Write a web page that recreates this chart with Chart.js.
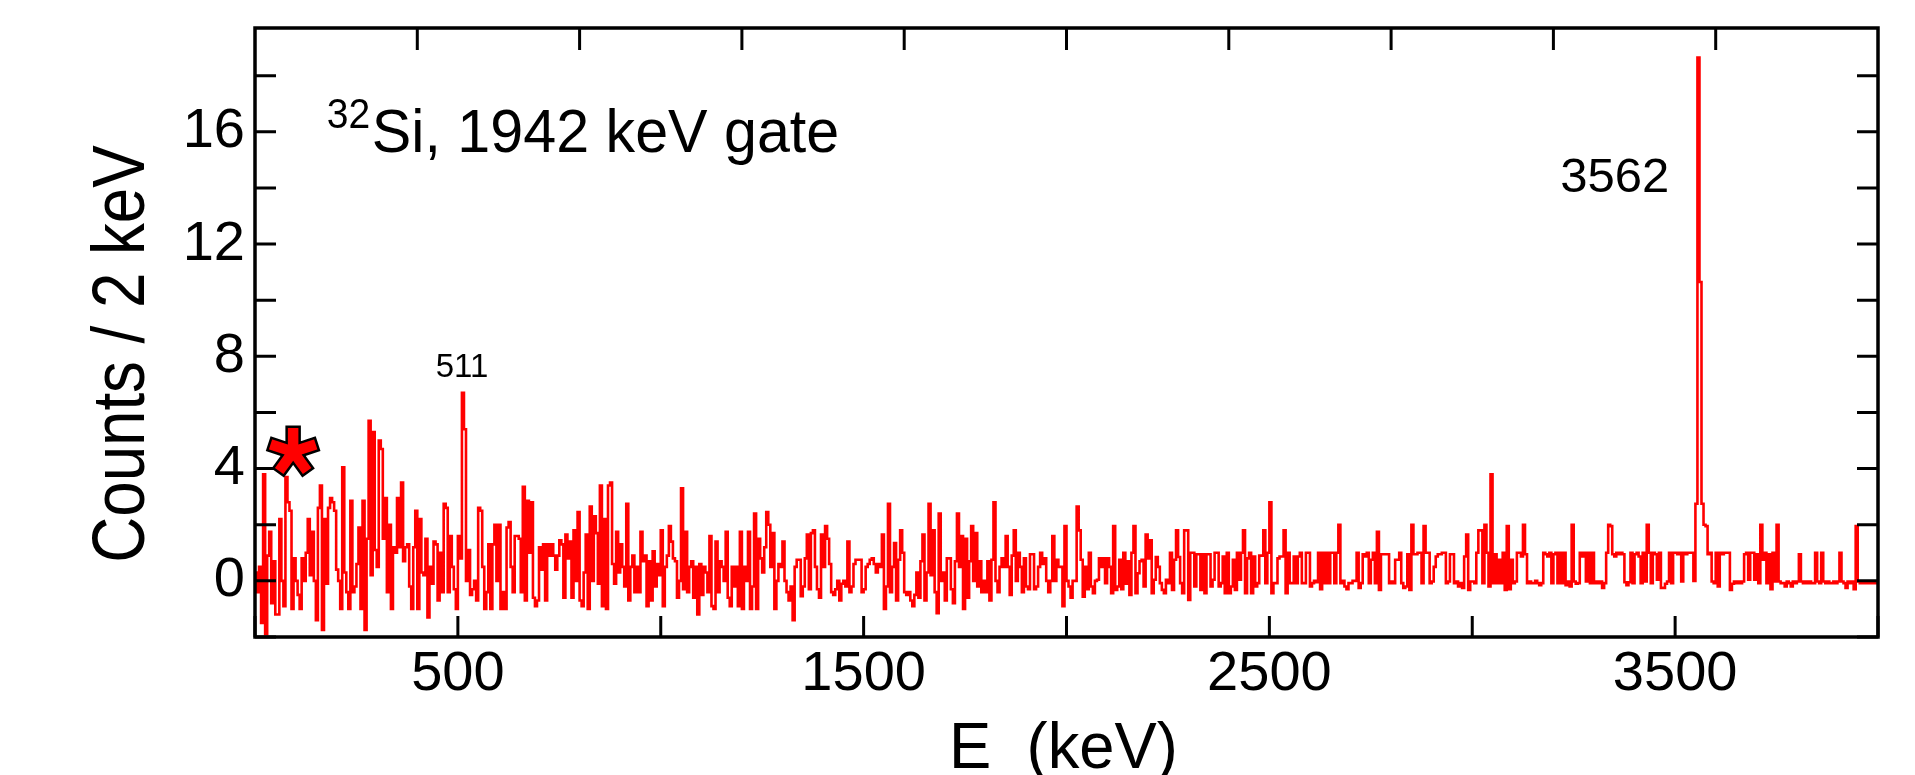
<!DOCTYPE html>
<html>
<head>
<meta charset="utf-8">
<script src="https://cdn.jsdelivr.net/npm/chart.js@4/dist/chart.umd.min.js"></script>
<style>
  html, body { margin: 0; padding: 0; background: #fff; }
  #wrap { width: 1915px; height: 775px; }
</style>
</head>
<body>
<div id="wrap"><canvas id="spectrum" width="1915" height="775"></canvas></div>
<script>
// counts per 5 keV bin
const counts0to500 = [
  0.3,-0.4,0.5,-1.5,3.8,-1.9,0.9,1.75,-0.8,0.7,
  -1.2,-1.2,2.2,0.0,-0.9,3.7,2.8,2.5,-1.0,0.8,
  0.0,-0.5,-1.0,0.8,0.0,1.0,2.2,0.2,1.75,0.0,
  -1.4,2.6,3.4,-1.75,2.2,-0.1,2.6,2.95,2.8,2.5,
  0.4,0.0,-1.0,4.05,0.3,-0.4,-1.0,2.85,-0.4,-0.2,
  0.6,1.9,-1.0,2.85,-1.75,1.5,5.7,0.2,5.3,1.1,
  0.5,5.0,4.7,1.5,2.95,-0.4,2.0,-1.0,1.2,1.0,
  2.95,1.2,3.5,0.7,1.2,1.3,-0.2,-1.0,1.2,2.5,
  -1.0,2.2,0.3,0.2,1.5,-1.3,0.5,-0.1,1.4,1.3,
  -0.7,1.0,-0.4,2.75,2.6,-0.4,1.6,0.5,-0.3,-1.0
];
const counts500to1000 = [
  1.6,0.8,6.7,5.4,0.0,1.1,-0.5,-0.3,0.0,-0.7,
  2.6,2.5,0.5,-1.0,-0.4,1.3,-1.0,1.3,2.0,0.0,
  2.0,-1.0,-0.4,-1.0,1.9,2.1,0.5,-0.4,1.6,1.6,
  1.5,-0.4,3.35,-0.7,2.85,1.0,2.8,-0.6,-0.9,-0.7,
  1.2,0.4,1.3,-0.7,1.3,0.9,1.3,0.9,0.4,0.9,
  1.45,1.3,-0.6,1.65,0.8,1.4,-0.6,1.8,0.0,2.45,
  -0.7,-0.9,0.3,1.65,-1.0,2.65,0.0,2.3,1.7,-0.1,
  3.4,-0.9,2.2,-1.0,3.4,3.5,0.6,-0.1,1.75,0.3,
  1.3,0.5,-0.2,2.75,-0.7,0.5,0.9,-0.4,0.5,-0.4,
  1.75,0.7,0.9,-0.9,0.7,-0.7,1.05,-0.2,0.6,0.2
];
const counts1000to1500 = [
  1.8,-0.9,0.5,0.9,1.95,1.4,0.8,0.7,-0.6,0.0,
  3.3,-0.3,1.75,-0.4,0.5,0.7,-0.6,0.5,-1.2,0.6,
  -0.5,0.5,0.3,-0.4,1.6,-0.9,-1.0,1.4,-0.4,0.7,
  0.5,0.0,1.75,-0.6,-0.9,0.5,-0.2,0.5,-0.9,1.75,
  -1.0,0.5,0.0,1.75,-1.0,-0.2,2.4,-1.0,1.5,0.8,
  0.3,1.2,2.45,2.0,0.5,1.7,-1.0,0.0,0.6,0.5,
  1.4,0.0,-0.4,-0.7,-0.2,-1.4,0.5,0.75,0.75,-0.55,
  -0.2,0.8,1.65,-0.3,1.7,1.8,0.5,-0.3,-0.6,1.65,
  0.5,1.95,1.5,0.6,-0.4,-0.5,-0.3,0.0,-0.7,-0.1,
  0.0,-0.2,1.4,-0.4,-0.2,0.6,0.75,0.75,0.75,-0.4
];
const counts1500to2000 = [
  -0.3,0.5,0.6,0.75,0.8,0.6,0.3,0.6,0.5,1.65,
  -1.0,-0.2,2.75,-0.4,0.5,1.35,-0.7,0.75,1.8,1.0,
  -0.4,-0.5,-0.4,-0.7,-0.9,-0.5,0.3,-0.6,0.7,1.65,
  -0.7,0.3,2.75,0.2,1.8,-0.4,-1.15,2.4,0.0,0.3,
  -0.7,0.8,0.8,-0.3,-0.8,0.7,2.4,0.5,1.6,-1.0,
  1.5,-0.6,0.7,1.95,0.0,1.7,-0.2,0.7,-0.4,0.0,
  -0.4,0.7,-0.7,0.75,2.8,0.0,-0.4,0.5,0.8,0.5,
  1.6,0.5,-0.5,0.9,1.8,0.0,1.0,0.5,-0.4,0.8,
  -0.2,-0.3,0.95,0.95,-0.3,-0.2,0.5,1.0,0.6,0.8,
  0.0,-0.4,0.0,1.6,0.0,0.75,0.5,0.5,-0.9,1.95
];
const counts2000to2500 = [
  0.0,-0.2,-0.6,0.0,0.0,2.65,1.8,0.75,-0.56,0.5,
  -0.3,1.0,-0.2,-0.44,0.0,0.04,0.8,0.5,0.8,-0.08,
  0.8,0.5,-0.44,1.95,-0.32,-0.2,0.75,-0.3,1.0,-0.1,
  0.7,-0.5,1.0,1.95,-0.44,0.27,0.7,0.75,-0.2,1.65,
  0.8,1.45,-0.44,0.04,0.85,0.5,-0.08,-0.32,-0.44,0.04,
  -0.08,1.0,-0.32,0.75,1.8,0.85,-0.08,-0.44,1.8,1.8,
  -0.68,1.0,1.0,-0.2,0.95,0.95,-0.32,0.95,-0.44,0.95,
  0.95,-0.2,0.04,1.0,1.0,-0.2,-0.08,0.87,-0.44,1.0,
  -0.44,-0.2,0.75,-0.32,1.0,0.04,1.0,1.8,-0.44,0.8,
  1.0,-0.44,0.87,-0.2,-0.08,0.9,0.9,1.8,-0.08,1.0
];
const counts2500to3000 = [
  2.8,-0.44,-0.08,-0.08,0.8,0.87,0.87,1.8,-0.44,1.0,
  -0.08,-0.08,0.87,-0.08,0.87,1.0,-0.08,-0.08,1.0,1.0,
  -0.2,-0.08,0.0,-0.05,1.0,-0.3,1.0,-0.08,1.0,-0.08,
  1.0,1.0,-0.08,1.0,2.0,-0.08,0.0,-0.2,-0.3,-0.08,
  -0.08,0.0,0.0,1.0,-0.25,-0.08,0.95,0.87,1.0,-0.08,
  0.75,1.0,-0.08,1.75,-0.32,0.95,0.95,0.95,0.95,-0.08,
  -0.02,-0.08,0.75,0.75,1.0,-0.08,-0.25,-0.2,0.95,-0.32,
  2.0,0.95,0.95,1.0,1.0,-0.08,1.95,1.0,1.0,-0.08,
  -0.02,0.5,0.87,0.95,0.95,1.0,1.0,-0.08,-0.02,0.95,
  0.95,-0.08,-0.02,-0.2,-0.08,-0.25,0.87,1.65,-0.32,-0.02
];
const counts3000to3500 = [
  -0.02,-0.08,1.0,1.8,1.8,-0.08,2.0,1.0,-0.2,3.8,
  -0.08,0.95,-0.08,0.75,-0.08,1.0,-0.32,1.95,-0.3,0.75,
  -0.08,-0.02,1.0,1.0,0.87,2.0,0.95,-0.08,-0.02,-0.08,
  -0.08,0.0,-0.08,-0.15,-0.08,1.0,0.95,0.87,1.0,-0.08,
  0.95,1.0,-0.08,1.0,-0.08,1.0,-0.15,-0.02,-0.2,2.0,
  -0.02,-0.1,-0.08,1.0,0.87,1.0,-0.02,1.0,-0.08,1.0,
  -0.08,-0.02,-0.08,-0.02,-0.25,-0.08,1.0,2.0,1.95,0.95,
  0.87,1.0,0.95,1.0,0.95,-0.05,-0.15,-0.05,1.0,-0.08,
  0.95,1.0,0.87,-0.08,1.0,-0.02,2.0,1.0,-0.08,1.0,
  0.95,0.04,1.0,-0.25,-0.25,-0.1,-0.02,1.0,-0.08,1.0
];
const counts3500to4000 = [
  1.0,0.95,1.0,-0.02,1.0,0.95,1.0,1.0,1.0,0.0,
  2.75,18.65,10.65,2.75,2.0,1.95,0.95,1.0,-0.02,-0.08,
  1.0,-0.2,1.0,0.95,1.0,1.0,1.0,-0.32,-0.1,-0.02,
  -0.08,-0.02,-0.08,-0.02,0.95,1.0,0.04,1.0,1.0,0.04,
  0.95,-0.08,2.0,0.75,1.0,-0.08,0.95,-0.3,1.0,-0.02,
  2.0,-0.02,-0.08,-0.08,-0.2,-0.02,-0.08,-0.2,-0.02,-0.08,
  -0.02,0.95,-0.02,-0.08,-0.02,-0.08,-0.02,-0.08,-0.08,1.0,
  -0.02,-0.08,1.0,-0.02,-0.08,-0.02,-0.08,-0.08,-0.02,-0.08,
  -0.02,1.0,-0.02,-0.08,-0.25,-0.02,-0.08,-0.02,-0.3,1.95,
  -0.02,-0.08,-0.02,-0.08,-0.02,-0.08,-0.08,-0.02,-0.08,-0.02
];

const binWidth = 5; // keV
const bottomTicks = [0, 500, 1000, 1500, 2000, 2500, 3000, 3500, 4000];
const bottomLabels = [500, 1500, 2500, 3500];
const topTicks = [400, 800, 1200, 1600, 2000, 2400, 2800, 3200, 3600];
const yTicks = [-2, 0, 2, 4, 6, 8, 10, 12, 14, 16, 18];
const yLabels = [0, 4, 8, 12, 16];

const counts = [].concat(counts0to500, counts500to1000, counts1000to1500, counts1500to2000,
  counts2000to2500, counts2500to3000, counts3000to3500, counts3500to4000);
const points = counts.map((c, i) => ({ x: i * binWidth + binWidth / 2, y: c }));

const FONT = "'Liberation Sans', Arial, Helvetica, sans-serif";

// text helper, sx squeezes the glyphs a little like the original narrow face
function drawText(ctx, text, x, y, size, sx, align) {
    ctx.save();
    ctx.translate(x, y);
    ctx.scale(sx, 1);
    ctx.font = size + 'px ' + FONT;
    ctx.textAlign = align || 'left';
    ctx.textBaseline = 'alphabetic';
    ctx.fillText(text, 0, 0);
    ctx.restore();
}

function drawStar(ctx, cx, cy, L, h) {
    const inner = h / Math.sin(Math.PI / 5);
    ctx.beginPath();
    for (let i = 0; i < 5; i++) {
        const t = i * 2 * Math.PI / 5;
        const ux = Math.sin(t), uy = -Math.cos(t);
        const px = Math.cos(t), py = Math.sin(t);
        const p1 = [cx + L * ux - h * px, cy + L * uy - h * py];
        const p2 = [cx + L * ux + h * px, cy + L * uy + h * py];
        const tm = t + Math.PI / 5;
        const p3 = [cx + inner * Math.sin(tm), cy - inner * Math.cos(tm)];
        if (i === 0) ctx.moveTo(p1[0], p1[1]); else ctx.lineTo(p1[0], p1[1]);
        ctx.lineTo(p2[0], p2[1]);
        ctx.lineTo(p3[0], p3[1]);
    }
    ctx.closePath();
    ctx.fillStyle = '#ff0000';
    ctx.fill();
    ctx.lineWidth = 2.5;
    ctx.strokeStyle = '#000';
    ctx.lineJoin = 'miter';
    ctx.stroke();
}

const framePlugin = {
    id: 'frameAndNotes',
    afterDatasetsDraw(chart) {
        const { ctx, chartArea: a, scales: { x, y } } = chart;
        ctx.save();
        ctx.strokeStyle = '#000';
        ctx.lineWidth = 3;
        ctx.beginPath();
        bottomTicks.forEach(v => {
            const px = x.getPixelForValue(v);
            ctx.moveTo(px, a.bottom); ctx.lineTo(px, a.bottom - 21);
        });
        topTicks.forEach(v => {
            const px = x.getPixelForValue(v);
            ctx.moveTo(px, a.top); ctx.lineTo(px, a.top + 22);
        });
        yTicks.forEach(v => {
            const py = y.getPixelForValue(v);
            ctx.moveTo(a.left, py); ctx.lineTo(a.left + 21, py);
            ctx.moveTo(a.right, py); ctx.lineTo(a.right - 21, py);
        });
        ctx.stroke();
        ctx.lineWidth = 3.5;
        ctx.strokeRect(a.left, a.top, a.right - a.left, a.bottom - a.top);

        ctx.fillStyle = '#000';
        // axis titles
        drawText(ctx, 'E  (keV)', (a.left + a.right) / 2 - 3, 768, 65, 0.975, 'center');
        ctx.save();
        ctx.translate(144, 354);
        ctx.rotate(-Math.PI / 2);
        drawText(ctx, 'Counts / 2 keV', 0, 0, 74, 0.86, 'center');
        ctx.restore();

        // gate label with superscript mass number
        const gx = x.getPixelForValue(177);
        drawText(ctx, '32', gx, y.getPixelForValue(16.14), 42, 0.93, 'left');
        drawText(ctx, 'Si, 1942 keV gate', gx + 45, y.getPixelForValue(15.28), 62, 0.955, 'left');

        // peak labels
        drawText(ctx, '511', x.getPixelForValue(510), y.getPixelForValue(7.27), 33, 1, 'center');
        drawText(ctx, '3562', x.getPixelForValue(3351), y.getPixelForValue(13.86), 49, 1, 'center');

        // contaminant marker
        drawStar(ctx, x.getPixelForValue(94), y.getPixelForValue(4.6), 25, 6.5);
        ctx.restore();
    }
};

const chart = new Chart(document.getElementById('spectrum').getContext('2d'), {
    type: 'line',
    data: {
        datasets: [{
            data: points,
            borderColor: '#ff0000',
            borderWidth: 2.6,
            pointRadius: 0,
            stepped: 'middle',
            fill: false
        }]
    },
    options: {
        responsive: false,
        animation: false,
        devicePixelRatio: 1,
        layout: { padding: { top: 28, right: 37, left: 0, bottom: 0 } },
        plugins: {
            legend: { display: false },
            tooltip: { enabled: false }
        },
        scales: {
            x: {
                type: 'linear',
                min: 0,
                max: 4000,
                grid: { display: false, drawTicks: false },
                border: { display: false },
                afterBuildTicks: s => { s.ticks = bottomTicks.map(v => ({ value: v })); },
                ticks: {
                    autoSkip: false,
                    maxRotation: 0,
                    padding: 10,
                    color: '#000',
                    font: { family: FONT, size: 56, lineHeight: 1 },
                    callback: v => bottomLabels.includes(v) ? String(v) : null
                },
                afterFit: s => {
                    s.height = 138;
                    s.paddingLeft = 0; s.paddingRight = 0;
                }
            },
            y: {
                min: -2,
                max: 19.7,
                grid: { display: false, drawTicks: false },
                border: { display: false },
                afterBuildTicks: s => { s.ticks = yTicks.map(v => ({ value: v })); },
                ticks: {
                    autoSkip: false,
                    padding: 10,
                    color: '#000',
                    font: { family: FONT, size: 56, lineHeight: 1 },
                    callback: v => yLabels.includes(v) ? String(v) : null
                },
                afterFit: s => {
                    s.width = 255;
                    s.paddingTop = 0; s.paddingBottom = 0;
                }
            }
        }
    },
    plugins: [framePlugin]
});
</script>
</body>
</html>
